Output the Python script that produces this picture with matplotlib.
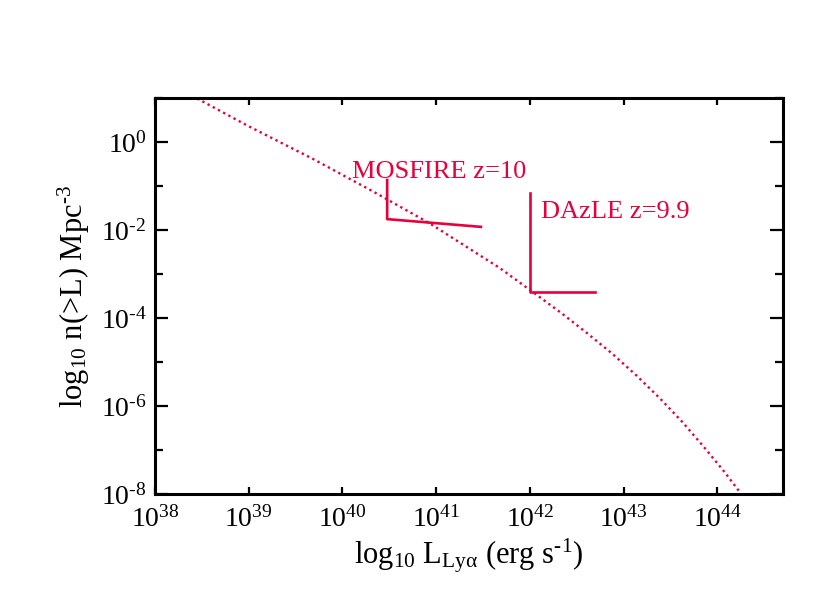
import numpy as np
import matplotlib
matplotlib.use('Agg')
import matplotlib.pyplot as plt
from matplotlib.ticker import FixedLocator, FuncFormatter, NullFormatter

plt.rcParams['font.family'] = ['Liberation Serif', 'DejaVu Serif']
plt.rcParams['mathtext.fontset'] = 'custom'
plt.rcParams['mathtext.rm'] = 'Liberation Serif'
plt.rcParams['mathtext.it'] = 'Liberation Serif:italic'
plt.rcParams['mathtext.default'] = 'rm'

red = '#e8003c'

# cumulative luminosity function (log10 units)
log_L = [38.45, 38.98, 39.69, 40.33, 40.93, 41.68, 42.06, 42.34, 42.61, 42.88,
         43.14, 43.39, 43.63, 43.86, 44.08, 44.24]
log_n = [1.00, 0.39, -0.38, -1.12, -1.84, -2.86, -3.45, -3.89, -4.34, -4.81,
         -5.31, -5.83, -6.37, -6.94, -7.51, -7.96]

# survey limits
mosfire_L = [3e40, 3e40, 3e41]
mosfire_n = [1.4e-1, 1.8e-2, 1.2e-2]
dazle_L = [1e42, 1e42, 5e42]
dazle_n = [6.9e-2, 4e-4, 4e-4]

x_major = [1e38, 1e39, 1e40, 1e41, 1e42, 1e43, 1e44]
y_major = [1e-8, 1e-6, 1e-4, 1e-2, 1e0]
y_minor = [1e-7, 1e-5, 1e-3, 1e-1, 1e1]


def pow10(v, pos):
    e = int(round(np.log10(v)))
    s = str(e).replace('-', '\u2010')
    return '$10^{%s}$' % s


fig = plt.figure(figsize=(8.3, 5.93), dpi=100)
ax = fig.add_axes([0.1867, 0.1669, 0.9434 - 0.1867, 0.8339 - 0.1669])

ax.plot(10.0 ** np.array(log_L), 10.0 ** np.array(log_n), color=red, lw=1.7,
        linestyle=(0, (1, 1.5)))
ax.plot(mosfire_L, mosfire_n, color=red, lw=1.9)
ax.plot(dazle_L, dazle_n, color=red, lw=1.9)

ax.text(1.27e40, 1.55e-1, 'MOSFIRE z=10', color=red, fontsize=19)
ax.text(1.32e42, 1.9e-2, 'DAzLE z=9.9', color=red, fontsize=19)

ax.set_xscale('log')
ax.set_yscale('log')
ax.set_xlim(1e38, 10 ** 44.7)
ax.set_ylim(1e-8, 1e1)

ax.xaxis.set_major_locator(FixedLocator(x_major))
ax.xaxis.set_minor_locator(FixedLocator([]))
ax.yaxis.set_major_locator(FixedLocator(y_major))
ax.yaxis.set_minor_locator(FixedLocator(y_minor))
ax.xaxis.set_major_formatter(FuncFormatter(pow10))
ax.yaxis.set_major_formatter(FuncFormatter(pow10))
ax.xaxis.set_minor_formatter(NullFormatter())
ax.yaxis.set_minor_formatter(NullFormatter())

ax.tick_params(axis='x', which='major', direction='in', length=5, width=1.6,
               top=True, labelsize=20, pad=9)
ax.tick_params(axis='y', which='major', direction='in', length=9.5, width=1.6,
               right=True, labelsize=20, pad=6)
ax.tick_params(axis='y', which='minor', direction='in', length=5.5, width=1.6,
               right=True)
for sp in ax.spines.values():
    sp.set_linewidth(2.2)

ax.set_xlabel('log$_{10}$ L$_{\\mathrm{Ly\u03b1}}$ (erg s$^{\u20101}$)', fontsize=22, labelpad=2)
ax.set_ylabel('log$_{10}$ n(>L) Mpc$^{\u20103}$', fontsize=22, labelpad=6)

plt.savefig('out.png', dpi=100)
plt.close()
